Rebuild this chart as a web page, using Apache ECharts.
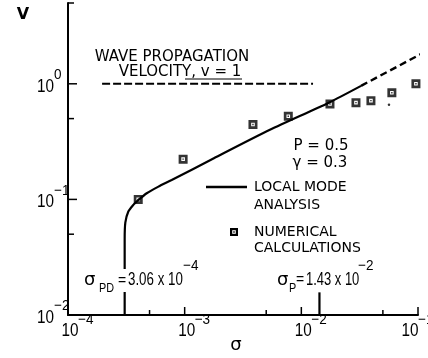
<!DOCTYPE html>
<html>
<head>
<meta charset="utf-8">
<script src="https://cdn.jsdelivr.net/npm/echarts@6/dist/echarts.min.js"></script>
<style>
  html, body { margin: 0; padding: 0; background: #fff; }
  #main { width: 428px; height: 358px; }
</style>
</head>
<body>
<div id="main"></div>
<script>
// local mode analysis curve (sigma, V)
const curveSigma = [3.06e-4, 3.06e-4, 3.1e-4, 3.29e-4, 3.63e-4, 3.96e-4, 4.73e-4, 5.96e-4, 7.74e-4, 1.78e-3, 5.38e-3, 1.72e-2, 3.25e-2];
const curveV = [0.01, 0.0449, 0.0629, 0.0785, 0.0897, 0.0977, 0.113, 0.129, 0.147, 0.227, 0.4, 0.687, 0.96];
// dashed extension of the curve
const extSigma = [3.25e-2, 0.106];
const extV = [0.96, 1.81];
// numerical calculations
const numSigma = [4.0e-4, 9.7e-4, 3.85e-3, 7.73e-3, 1.76e-2, 2.94e-2, 3.95e-2, 5.97e-2, 9.6e-2];
const numV = [0.1, 0.223, 0.445, 0.524, 0.669, 0.687, 0.715, 0.837, 1.0];
// stray dot under the squares
const dotSigma = [5.64e-2];
const dotV = [0.66];
// wave propagation velocity, v = 1
const waveSigma = [1.96e-4, 1.26e-2];
const waveV = [1, 1];
// sigma_P marker
const markSigma = [1.43e-2, 1.43e-2];
const markV = [0.01, 0.0157];

// axes
const X_MIN = 1e-4, X_MAX = 0.1;
const Y_MIN = 0.01, Y_MAX = 5;
const xTicks = [1e-4, 5e-4, 1e-3, 5e-3, 1e-2, 5e-2, 1e-1];
const xTickLabels = ['−4', '', '−3', '', '−2', '', '−1'];
const yTicks = [0.01, 0.05, 0.1, 0.5, 1, 5];
const yTickLabels = ['−2', '', '−1', '', '0', ''];

const zip = (a, b) => a.map((v, i) => [v, b[i]]);
const NUM = '"Liberation Sans", Arial, sans-serif';
const SANS = '"DejaVu Sans", sans-serif';
const SQUARE = 'path://M0,0H10V10H0Z M3,3V7H7V3Z M4.2,4.2H5.8V5.8H4.2Z';

// text helper; sx squeezes the glyphs like the narrow lettering
function txt(text, x, y, size, align, family, sx, weight) {
    return {
        type: 'text', x: x, y: y, z: 100, scaleX: sx || 1,
        style: {
            text: text, fill: '#000', fontSize: size, fontFamily: family || SANS,
            fontWeight: weight || 'normal',
            align: align || 'center', verticalAlign: 'middle',
            textAlign: align || 'center', textVerticalAlign: 'middle'
        }
    };
}

function xTickItem(params, api) {
    const i = params.dataIndex;
    const p = api.coord([xTicks[i], Y_MIN]);
    const major = xTickLabels[i] !== '';
    const len = major ? 8 : 5;
    const kids = [{ type: 'line', shape: { x1: p[0], y1: p[1], x2: p[0], y2: p[1] - len }, style: { stroke: '#000', lineWidth: 1.5 } }];
    if (major) {
        // last label sits a bit to the left, against the edge
        const dx = i === xTicks.length - 1 ? -8 : 2;
        kids.push(txt('10', p[0] + dx, p[1] + 16, 18, 'center', NUM, 0.85));
        kids.push(txt(xTickLabels[i], p[0] + dx + 8, p[1] + 5, 15, 'left', NUM, 0.9));
    }
    return { type: 'group', children: kids };
}

function yTickItem(params, api) {
    const i = params.dataIndex;
    const p = api.coord([X_MIN, yTicks[i]]);
    const major = yTickLabels[i] !== '';
    const len = major ? 9 : 6;
    const kids = [{ type: 'line', shape: { x1: p[0], y1: p[1], x2: p[0] + len, y2: p[1] }, style: { stroke: '#000', lineWidth: 1.5 } }];
    if (major) {
        kids.push(txt('10', p[0] - 14, p[1] + 3, 18, 'right', NUM, 0.85));
        kids.push(txt(yTickLabels[i], p[0] - 14, p[1] - 9, 15, 'left', NUM, 0.9));
    }
    return { type: 'group', children: kids };
}

const chart = echarts.init(document.getElementById('main'));

const axisCommon = {
    type: 'log', logBase: 10,
    axisLine: { show: true, lineStyle: { color: '#000', width: 2 } },
    axisTick: { show: false },
    axisLabel: { show: false },
    splitLine: { show: false }
};

chart.setOption({
    animation: false,
    backgroundColor: '#fff',
    grid: { left: 68, right: 10, top: 3, bottom: 43 },
    xAxis: Object.assign({ min: X_MIN, max: X_MAX }, axisCommon),
    yAxis: Object.assign({ min: Y_MIN, max: Y_MAX }, axisCommon),
    series: [
        {
            name: 'LOCAL MODE ANALYSIS', type: 'line', data: zip(curveSigma, curveV),
            symbol: 'none', smooth: 0.25, clip: false,
            lineStyle: { color: '#000', width: 2.2 }
        },
        {
            type: 'line', data: zip(extSigma, extV), symbol: 'none', clip: false,
            lineStyle: { color: '#000', width: 2.4, type: [7, 4] }
        },
        {
            type: 'line', data: zip(waveSigma, waveV), symbol: 'none',
            lineStyle: { color: '#000', width: 2, type: [8, 3] }
        },
        {
            type: 'line', data: zip(markSigma, markV), symbol: 'none', clip: false,
            lineStyle: { color: '#000', width: 2.2 }
        },
        {
            name: 'NUMERICAL CALCULATIONS', type: 'scatter', data: zip(numSigma, numV),
            symbol: SQUARE, symbolSize: 9, itemStyle: { color: '#000' }, z: 5
        },
        {
            type: 'scatter', data: zip(dotSigma, dotV), symbol: 'circle',
            symbolSize: 2.5, itemStyle: { color: '#000' }
        },
        {
            type: 'custom', data: xTicks.map(v => [v, Y_MIN]), renderItem: xTickItem, clip: false, z: 10
        },
        {
            type: 'custom', data: yTicks.map(v => [X_MIN, v]), renderItem: yTickItem, clip: false, z: 10
        }
    ],
    graphic: [
        txt('V', 23, 15, 16, 'center', SANS, 1, 'bold'),
        txt('σ', 236, 345, 18, 'center', SANS),
        txt('WAVE PROPAGATION', 172, 57, 15),
        txt('VELOCITY, v = 1', 180, 72, 15),
        { type: 'line', z: 100, shape: { x1: 185, y1: 79, x2: 242, y2: 79 }, style: { stroke: '#000', lineWidth: 1.2 } },
        txt('P = 0.5', 321, 146, 15),
        txt('γ = 0.3', 320, 163, 15),
        // legend
        { type: 'line', z: 100, shape: { x1: 206, y1: 187, x2: 247, y2: 187 }, style: { stroke: '#000', lineWidth: 2.4 } },
        txt('LOCAL MODE', 254, 187, 14, 'left'),
        txt('ANALYSIS', 254, 205, 14, 'left'),
        { type: 'rect', z: 100, shape: { x: 230, y: 228, width: 8, height: 8 }, style: { fill: '#000' } },
        { type: 'rect', z: 101, shape: { x: 232.2, y: 230.2, width: 3.6, height: 3.6 }, style: { fill: '#fff' } },
        { type: 'rect', z: 102, shape: { x: 233.3, y: 231.3, width: 1.4, height: 1.4 }, style: { fill: '#000' } },
        txt('NUMERICAL', 254, 232, 14, 'left'),
        txt('CALCULATIONS', 254, 248, 14, 'left'),
        // sigma_PD annotation
        { type: 'rect', z: 99, shape: { x: 117, y: 269, width: 14, height: 23 }, style: { fill: '#fff' } },
        txt('σ', 84, 280, 18, 'left', SANS),
        txt('PD', 99, 289, 12, 'left', NUM, 0.9),
        txt('=', 122, 281, 14, 'center', NUM),
        txt('3.06 x 10', 128, 280, 18, 'left', NUM, 0.74),
        txt('−4', 183, 266, 15, 'left', NUM, 0.9),
        // sigma_P annotation
        txt('σ', 277, 280, 18, 'left', SANS),
        txt('P', 289, 289, 12, 'left', NUM, 0.9),
        txt('=', 300, 280, 14, 'center', NUM),
        txt('1.43 x 10', 306, 280, 18, 'left', NUM, 0.72),
        txt('−2', 358, 266, 15, 'left', NUM, 0.9)
    ]
});
</script>
</body>
</html>
